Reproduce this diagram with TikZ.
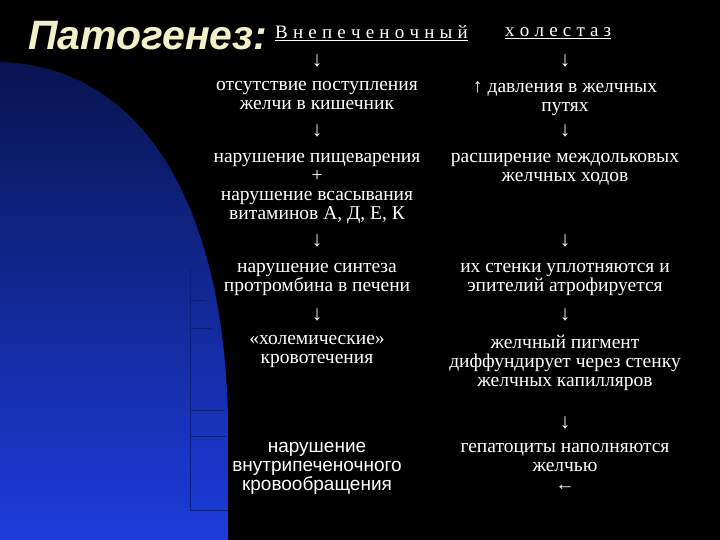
\documentclass[tikz,border=0pt]{standalone}
\usepackage{fontspec}
\setmainfont{Liberation Serif}
\newfontfamily\sansf{Liberation Sans}
\definecolor{titlec}{HTML}{F2F0C8}
\definecolor{tabline}{HTML}{0A1E80}
\newcommand{\ks}{\kern5.2pt}
\begin{document}
\begin{tikzpicture}[x=1pt,y=-1pt,
  txt/.style={text=white,align=center,font=\fontsize{19.5}{19}\selectfont,inner sep=0pt,anchor=north},
  arr/.style={text=white,font=\fontsize{21}{19}\selectfont,inner sep=0pt}]
\fill[black] (0,0) rectangle (720,540);
\useasboundingbox (0,0) rectangle (720,540);
\shade[top color={rgb,255:red,8;green,20;blue,80}, bottom color={rgb,255:red,28;green,60;blue,220}]
  (0,62) .. controls (140,66) and (224,200) .. (228,420) -- (228,540) -- (0,540) -- cycle;
\draw[tabline,line width=0.8pt] (190,268) -- (190,510);
\foreach \yy/\xe in {300/206,328/212,410/224,436/226,510/228} \draw[tabline,line width=0.8pt] (190,\yy) -- (\xe,\yy);
\node[text=titlec,font=\sansf\bfseries\itshape\fontsize{41}{44}\selectfont,anchor=west,inner sep=0pt] (title) at (28,36) {Патогенез:};
\node[text=white,font=\fontsize{19}{20}\selectfont,anchor=west,inner sep=0pt] (h1) at (275,33) {\underline{В\ks н\ks е\ks п\ks е\ks ч\ks е\ks н\ks о\ks ч\ks н\ks ы\ks й}};
\node[text=white,font=\fontsize{19}{20}\selectfont,anchor=west,inner sep=0pt] (h2) at (505,33) {\underline{х\ks о\ks л\ks е\ks с\ks т\ks а\ks з}};
% left column
\node[arr] (la1) at (317,61) {↓};
\node[txt] (l1) at (317,81) {отсутствие поступления\\желчи в кишечник};
\node[arr] (la2) at (317,131) {↓};
\node[txt] (l2) at (317,153) {нарушение пищеварения\\+\\нарушение всасывания\\витаминов А, Д, Е, К};
\node[arr] (la3) at (317,241) {↓};
\node[txt] (l3) at (317,263) {нарушение синтеза\\протромбина в печени};
\node[arr] (la4) at (317,315) {↓};
\node[txt] (l4) at (317,335) {«холемические»\\кровотечения};
\node[txt,font=\sansf\fontsize{19}{19}\selectfont] (l5) at (317,442) {нарушение\\внутрипеченочного\\кровообращения};
% right column
\node[arr] (ra1) at (565,61) {↓};
\node[txt] (r1) at (565,81) {↑ давления в желчных\\путях};
\node[arr] (ra2) at (565,131) {↓};
\node[txt] (r2) at (565,153) {расширение междольковых\\желчных ходов};
\node[arr] (ra3) at (565,241) {↓};
\node[txt] (r3) at (565,263) {их стенки уплотняются и\\эпителий атрофируется};
\node[arr] (ra4) at (565,315) {↓};
\node[txt] (r4) at (565,335) {желчный пигмент\\диффундирует через стенку\\желчных капилляров};
\node[arr] (ra5) at (565,423) {↓};
\node[txt] (r5) at (565,443) {гепатоциты наполняются\\желчью\\←};
\end{tikzpicture}
\end{document}
